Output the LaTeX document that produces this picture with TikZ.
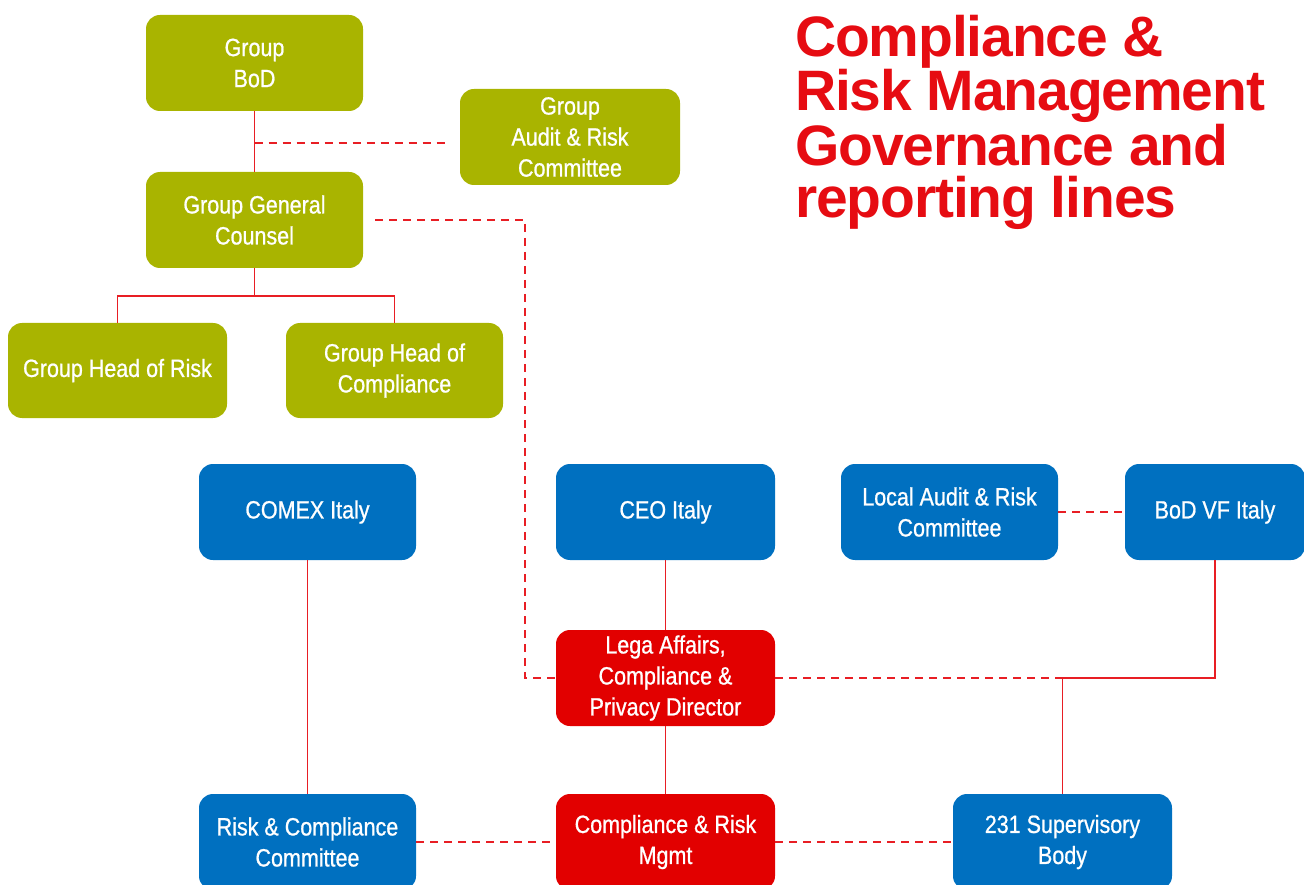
\documentclass[tikz,border=0pt]{standalone}
\usepackage{fontspec}
\setmainfont{Liberation Sans}[FakeStretch=0.86,FakeBold=0.8]
\newfontfamily\titlefont{Liberation Sans}[LetterSpace=-2]
\definecolor{grn}{RGB}{169,180,0}
\definecolor{blu}{RGB}{0,112,192}
\definecolor{redfill}{RGB}{226,0,0}
\definecolor{lnred}{RGB}{232,30,36}
\definecolor{ttl}{RGB}{230,12,18}
\begin{document}
\begin{tikzpicture}[x=1pt,y=-1pt,
 box/.style={rounded corners=14pt, minimum width=217pt, minimum height=96pt, inner sep=0pt, text=white, align=center, font=\fontsize{25}{31}\selectfont},
 gbox/.style={box, fill=grn},
 bbox/.style={box, fill=blu},
 redbox/.style={box, fill=redfill},
 solidln/.style={draw=lnred, line width=1.9pt},
 dashln/.style={draw=lnred, line width=1.9pt, dash pattern=on 8pt off 6pt}]
\useasboundingbox (0,0) rectangle (1304,885);
\clip (0,0) rectangle (1304,885);
% green
\node[gbox] (gbod) at (254.5,63) {Group\\BoD};
\node[gbox, minimum width=220pt] (gaudit) at (570,137) {Group\\Audit \& Risk\\Committee};
\node[gbox] (ggc) at (254.5,220) {Group General\\Counsel};
\node[gbox, minimum width=219pt, minimum height=95pt] (ghr) at (117.5,370.5) {Group Head of Risk};
\node[gbox, minimum height=95pt] (ghc) at (394.5,370.5) {Group Head of\\Compliance};
% blue
\node[bbox] (comex) at (307.5,512) {COMEX Italy};
\node[bbox, minimum width=219pt] (ceo) at (665.5,512) {CEO Italy};
\node[bbox] (laudit) at (949.5,512) {Local Audit \& Risk\\Committee};
\node[bbox, minimum width=180pt] (bodvf) at (1215,512) {BoD VF Italy};
\node[bbox] (rcc) at (307.5,842) {Risk \& Compliance\\Committee};
\node[bbox, minimum width=219pt] (sup) at (1062.5,842) {231 Supervisory\\Body};
% red
\node[redbox, minimum width=219pt] (lega) at (665.5,678) {Lega Affairs,\\Compliance \&\\Privacy Director};
\node[redbox, minimum width=219pt] (crm) at (665.5,842) {Compliance \& Risk\\Mgmt};
% title
\node[anchor=north west, inner sep=0pt, align=left, text=ttl, font=\titlefont\bfseries\fontsize{57}{52}\selectfont] (title) at (795,15) {Compliance \&\\Risk Management\\Governance and\\reporting lines};
% connectors
\coordinate (j1) at (254.5,143);
\coordinate (j1e) at (447,143);
\coordinate (fork) at (254.5,296);
\coordinate (k0) at (375,220);
\coordinate (k1) at (525,220);
\coordinate (m1) at (bodvf.south |- lega.east);
\draw[solidln] (gbod.south) -- (ggc.north);
\draw[dashln] (j1) -- (j1e);
\draw[solidln] (ggc.south) -- (fork);
\draw[solidln] (ghr.north) |- (fork) -| (ghc.north);
\draw[dashln] (k0) -- (k1) |- (lega.west);
\draw[solidln] (comex.south) -- (rcc.north);
\draw[solidln] (ceo.south) -- (lega.north);
\draw[solidln] (lega.south) -- (crm.north);
\draw[dashln] (laudit.east) -- (bodvf.west);
\draw[dashln] (rcc.east) -- (crm.west);
\draw[dashln] (crm.east) -- (sup.west);
\draw[dashln] (lega.east) -- (m1) -- (bodvf.south);
\draw[solidln, line width=1.2pt] (sup.north) |- (m1) -- (bodvf.south);
\end{tikzpicture}
\end{document}
